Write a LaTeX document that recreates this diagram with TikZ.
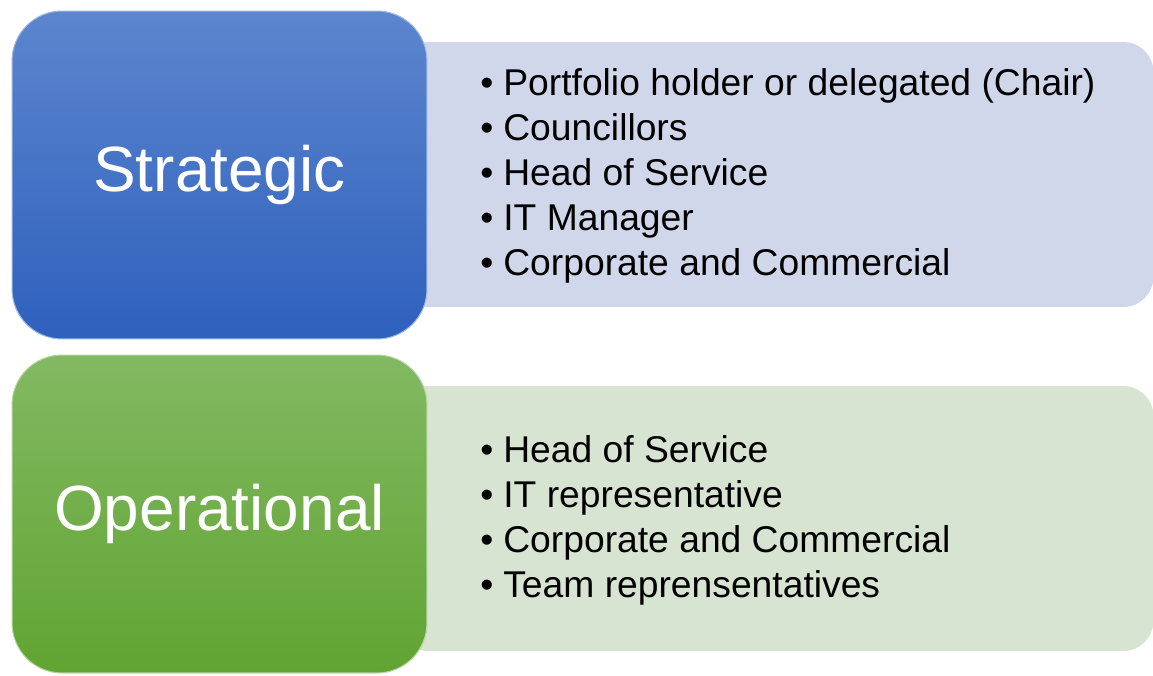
\documentclass[tikz,border=0pt]{standalone}
\usepackage{fontspec}
\setmainfont{Liberation Sans}
\usetikzlibrary{positioning}
\definecolor{stratTop}{HTML}{5C86CE}
\definecolor{stratBot}{HTML}{2E60BD}
\definecolor{operTop}{HTML}{82B962}
\definecolor{operBot}{HTML}{61A432}
\definecolor{stratPanel}{HTML}{D1D7EA}
\definecolor{operPanel}{HTML}{D8E4D2}
\tikzset{
  levelbox/.style={rounded corners=1cm, minimum width=8.3cm, minimum height=6.56cm,
    text=white, font=\fontsize{36.4}{44}\selectfont, line width=0.6pt},
  panel/.style={rounded corners=0.6cm, minimum width=15.1cm, minimum height=5.3cm},
  item/.style={anchor=base west, inner sep=0pt, font=\fontsize{21.2}{25.4}\selectfont}
}
\begin{document}
\begin{tikzpicture}[x=0.02cm,y=-0.02cm]
	\useasboundingbox (0,0) rectangle (1153,676);
	% light panels behind the level boxes
	\node[panel,fill=stratPanel] (sp) at (776,174.5) {};
	\node[panel,fill=operPanel] (op) at (776,518.5) {};
	% level boxes
	\node[levelbox,top color=stratTop,bottom color=stratBot,draw=stratTop!60!white] (strat) at (219.5,175) {Strategic};
	\node[levelbox,minimum height=6.36cm,top color=operTop,bottom color=operBot,draw=operTop!60!white] (oper) at (219.5,514) {Operational};
	% members
	\foreach \txt [count=\i] in {Portfolio holder or delegated (Chair), Councillors, Head of Service, IT Manager, Corporate and Commercial}
		\node[item] (s\i) at (480,50+45*\i) {\makebox[0.46cm][l]{•}\txt};
	\foreach \txt [count=\i] in {Head of Service, IT representative, Corporate and Commercial, Team reprensentatives}
		\node[item] (o\i) at (480,417+45*\i) {\makebox[0.46cm][l]{•}\txt};
\end{tikzpicture}
\end{document}
